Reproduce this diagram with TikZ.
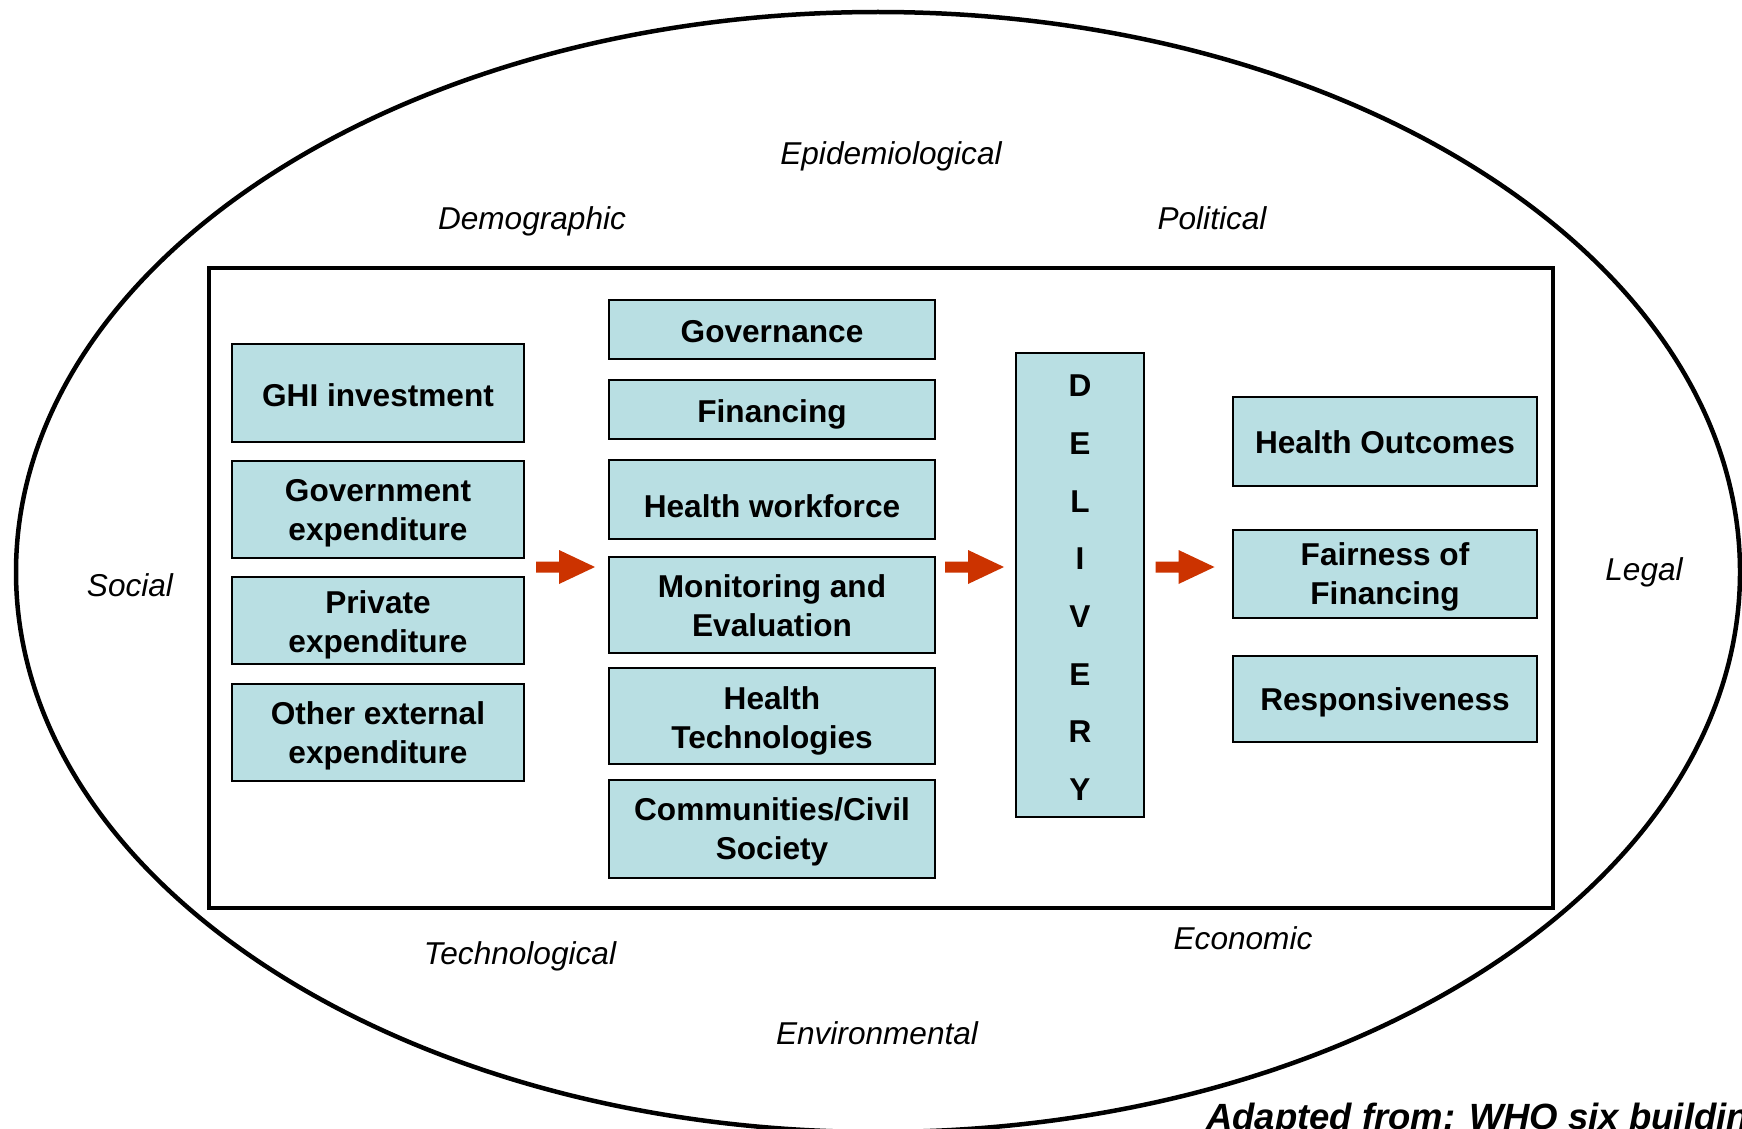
\documentclass[tikz,border=0pt]{standalone}
\usepackage{fontspec}
\setmainfont{Liberation Sans}
\definecolor{boxblue}{RGB}{185,223,227}
\definecolor{arrowred}{RGB}{204,51,0}
\tikzset{
  box/.style={draw=black, line width=1.8pt, fill=boxblue, inner sep=0pt},
  btext/.style={align=center, inner sep=0pt, font=\bfseries\fontsize{31.6}{39}\selectfont},
  factor/.style={font=\itshape\fontsize{31.6}{38}\selectfont, inner sep=0pt},
  blockarrow/.pic={\fill[arrowred] (-29,-5.5) -- (-6,-5.5) -- (-6,-17) -- (30,0) -- (-6,17) -- (-6,5.5) -- (-29,5.5) -- cycle;}
}
\begin{document}
\begin{tikzpicture}[x=1pt,y=-1pt]
\fill[white] (0,0) rectangle (1742,1129);
\useasboundingbox (0,0) rectangle (1742,1129);
\begin{scope}
\clip (0,0) rectangle (1742,1129);
\draw[line width=4.5pt] (878,572) ellipse [x radius=862, y radius=560];
\node[font=\bfseries\itshape\fontsize{36.5}{42}\selectfont, anchor=base west, inner sep=0pt] (src) at (1206,1129) {Adapted from: WHO six building blocks};
\end{scope}
\draw[line width=3.5pt] (209,268) rectangle (1553,908);

% environment factors
\node[factor] (epi) at (891,156.5) {Epidemiological};
\node[factor] (demo) at (532,221) {Demographic};
\node[factor] (pol) at (1212,218) {Political};
\node[factor] (soc) at (130,585) {Social};
\node[factor] (legal) at (1644,572) {Legal};
\node[factor] (techf) at (520,956.5) {Technological};
\node[factor] (econ) at (1243,938) {Economic};
\node[factor] (env) at (877,1033) {Environmental};

% left column
\node[box, minimum width=292pt, minimum height=98pt, label={[btext,yshift=-2.2pt]center:GHI investment}] (ghi) at (378,393) {};
\node[box, minimum width=292pt, minimum height=97pt, label={[btext,yshift=-3.6pt]center:Government\\expenditure}] (gov) at (378,509.5) {};
\node[box, minimum width=292pt, minimum height=87pt, label={[btext,yshift=-4.2pt]center:Private\\expenditure}] (priv) at (378,620.5) {};
\node[box, minimum width=292pt, minimum height=97pt, label={[btext,yshift=-3.6pt]center:Other external\\expenditure}] (other) at (378,732.5) {};

% middle column
\node[box, minimum width=326pt, minimum height=59pt, label={[btext,yshift=-2.2pt]center:Governance}] (govn) at (772,329.5) {};
\node[box, minimum width=326pt, minimum height=59pt, label={[btext,yshift=-4.4pt]center:Financing}] (fin) at (772,409.5) {};
\node[box, minimum width=326pt, minimum height=79pt, label={[btext,yshift=-6.7pt]center:Health workforce}] (work) at (772,499.5) {};
\node[box, minimum width=326pt, minimum height=96pt, label={[btext,yshift=-1.1pt]center:Monitoring and\\Evaluation}] (mon) at (772,605) {};
\node[box, minimum width=326pt, minimum height=96pt, label={[btext,yshift=-4.4pt]center:Health\\Technologies}] (tech) at (772,716) {};
\node[box, minimum width=326pt, minimum height=98pt, label={[btext,yshift=-3.3pt]center:Communities/Civil\\Society}] (comm) at (772,829) {};

% delivery
\node[box, minimum width=128pt, minimum height=464pt, label={[btext,yshift=-2.8pt,font=\bfseries\fontsize{31.6}{57.7}\selectfont]center:D\\E\\L\\I\\V\\E\\R\\Y}] (del) at (1080,585) {};

% right column
\node[box, minimum width=304pt, minimum height=89pt, label={[btext,yshift=-1.1pt]center:Health Outcomes}] (out) at (1385,441.5) {};
\node[box, minimum width=304pt, minimum height=88pt, label={[btext,yshift=-3.3pt]center:Fairness of\\Financing}] (fair) at (1385,574) {};
\node[box, minimum width=304pt, minimum height=86pt, label={[btext,yshift=-3.3pt]center:Responsiveness}] (resp) at (1385,699) {};

% block arrows
\pic (a1) at (565,567) {blockarrow};
\pic (a2) at (974,567) {blockarrow};
\pic (a3) at (1184.5,567) {blockarrow};
\end{tikzpicture}
\end{document}
